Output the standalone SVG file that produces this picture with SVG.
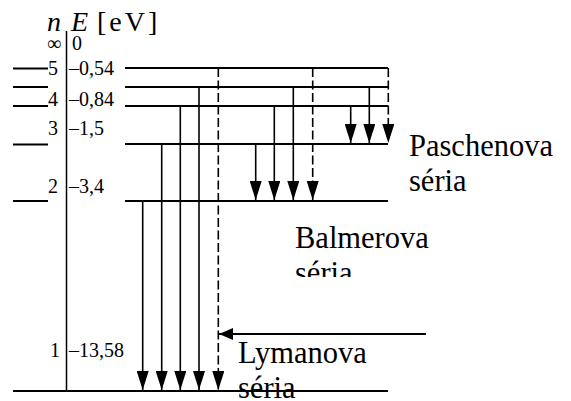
<svg xmlns="http://www.w3.org/2000/svg" width="571" height="401" viewBox="0 0 571 401">
  <defs>
    <style>
      .lvl { stroke: #000; stroke-width: 2; fill: none; }
      .tr { stroke: #000; stroke-width: 1.6; fill: none; marker-end: url(#ah); }
      .dash { stroke-dasharray: 9 3.5; }
      .axis { stroke: #000; stroke-width: 1.5; }
      text { font-family: 'Liberation Serif', 'DejaVu Serif', 'Times New Roman', serif; fill: #000; }
      .num { font-size: 20px; }
      .lab { font-size: 30.5px; }
      .hdr { font-size: 28px; }
    </style>
    <marker id="ah" markerUnits="userSpaceOnUse" markerWidth="19" markerHeight="12" viewBox="0 0 19 12" refX="19" refY="6" orient="auto">
      <path d="M0,0 L19,6 L0,12 z" fill="#000"/>
    </marker>
    <marker id="ah2" markerUnits="userSpaceOnUse" markerWidth="14" markerHeight="12" viewBox="0 0 14 12" refX="14" refY="6" orient="auto">
      <path d="M0,0 L14,6 L0,12 z" fill="#000"/>
    </marker>
    <clipPath id="clipB">
      <rect x="280" y="240" width="200" height="37"/>
    </clipPath>
  </defs>
  <rect width="571" height="401" fill="#fff"/>

  <g id="header">
    <text class="hdr" x="47" y="31" font-style="italic">n</text>
    <text class="hdr" x="71" y="31" font-style="italic">E</text>
    <text class="hdr" x="97" y="31" letter-spacing="3">[eV]</text>
    <text class="num" x="47" y="50">∞</text>
    <text class="num" x="72" y="50">0</text>
  </g>

  <g id="axis">
    <line class="axis" x1="66.5" y1="31" x2="66.5" y2="391"/>
  </g>

  <g id="level-5">
    <line class="lvl" x1="13" y1="68.5" x2="48" y2="68.5"/>
    <text class="num" x="48" y="74.5">5</text>
    <text class="num" x="69" y="74.5">–0,54</text>
    <line class="lvl" x1="125" y1="68" x2="388" y2="68"/>
  </g>
  <g id="level-4b">
    <line class="lvl" x1="13" y1="87" x2="48" y2="87"/>
    <line class="lvl" x1="125" y1="87" x2="388" y2="87"/>
  </g>
  <g id="level-4">
    <line class="lvl" x1="13" y1="106" x2="48" y2="106"/>
    <text class="num" x="48" y="105.5">4</text>
    <text class="num" x="69" y="105.5">–0,84</text>
    <line class="lvl" x1="125" y1="106" x2="388" y2="106"/>
  </g>
  <g id="level-3">
    <line class="lvl" x1="13" y1="144.5" x2="48" y2="144.5"/>
    <text class="num" x="48" y="135">3</text>
    <text class="num" x="69" y="135">–1,5</text>
    <line class="lvl" x1="125" y1="144" x2="388" y2="144"/>
  </g>
  <g id="level-2">
    <line class="lvl" x1="13" y1="201" x2="48" y2="201"/>
    <text class="num" x="48" y="193">2</text>
    <text class="num" x="69" y="193">–3,4</text>
    <line class="lvl" x1="125" y1="201" x2="388" y2="201"/>
  </g>

  <g id="labels">
    <text class="lab" x="409" y="156">Paschenova</text>
    <text class="lab" x="409" y="191">séria</text>
    <text class="lab" x="295" y="248">Balmerova</text>
    <text class="lab" x="295" y="282.5" clip-path="url(#clipB)">séria</text>
    <text class="lab" x="238" y="363">Lymanova</text>
    <text class="lab" x="238" y="397.5">séria</text>
  </g>

  <g id="level-1">
    <text class="num" x="50" y="357">1</text>
    <text class="num" x="69" y="357">–13,58</text>
    <line class="lvl" x1="13" y1="391" x2="388" y2="391"/>
  </g>

  <g id="connectors">
    <line class="tr" x1="142.7" y1="201" x2="142.7" y2="390"/>
    <line class="tr" x1="161.7" y1="144" x2="161.7" y2="390"/>
    <line class="tr" x1="180.3" y1="106" x2="180.3" y2="390"/>
    <line class="tr" x1="199" y1="87" x2="199" y2="390"/>
    <line class="tr dash" x1="218.3" y1="68" x2="218.3" y2="390"/>
    <line class="tr" x1="255.7" y1="144" x2="255.7" y2="200"/>
    <line class="tr" x1="274.3" y1="106" x2="274.3" y2="200"/>
    <line class="tr" x1="293.3" y1="87" x2="293.3" y2="200"/>
    <line class="tr dash" x1="312.7" y1="68" x2="312.7" y2="200"/>
    <line class="tr" x1="350.7" y1="106" x2="350.7" y2="143"/>
    <line class="tr" x1="369.3" y1="87" x2="369.3" y2="143"/>
    <line class="tr dash" x1="388.3" y1="68" x2="388.3" y2="143"/>
    <line x1="426" y1="334" x2="219" y2="334" stroke="#000" stroke-width="2" marker-end="url(#ah2)"/>
  </g>
</svg>
